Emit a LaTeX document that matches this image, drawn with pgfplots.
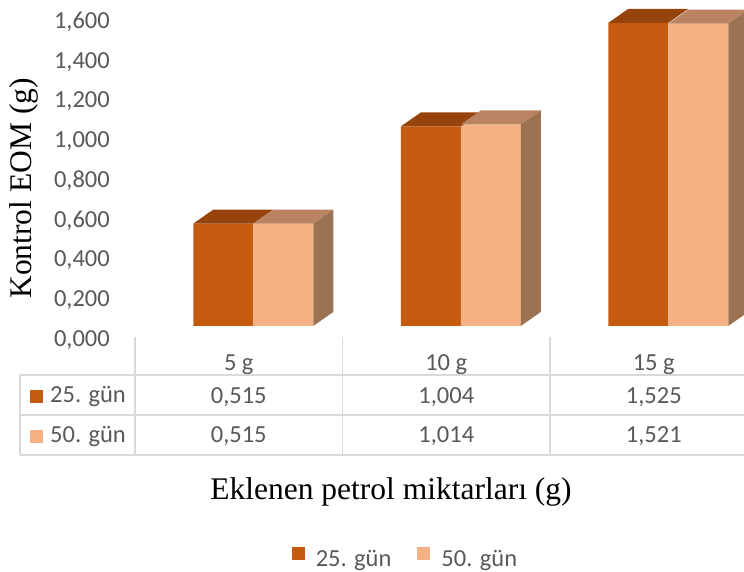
\documentclass[border=0pt]{standalone}
\usepackage{pgfplots}
\usepackage{pgfplotstable}
\usepackage{fontspec}
\pgfplotsset{compat=1.18}
\setmainfont{Carlito}
\newfontfamily\serifface{Liberation Serif}

\definecolor{c25}{HTML}{C55A11}
\definecolor{c50}{HTML}{F4B183}
\definecolor{c25top}{HTML}{97440C}
\definecolor{c50top}{HTML}{BA8462}
\definecolor{c50side}{HTML}{9C7352}
\definecolor{txt}{HTML}{595959}
\definecolor{rule}{HTML}{D9D9D9}

\newcommand\numfont{\fontsize{24.5}{29}\selectfont}
\newcommand\labfont{\fontsize{31.5}{36}\selectfont\serifface}

\pgfkeys{/pgf/number format/.cd, fixed, fixed zerofill, precision=3, use comma, assume math mode=true}

% EOM (g) for each amount of added petroleum
\pgfplotstableread{
x  a      b
0  0.515  0.515
1  1.004  1.014
2  1.525  1.521
}\eom

\pgfdeclareplotmark{blank}{}

% bar geometry in pt
\def\bw{60}      % width of one front face
\def\dx{20}      % depth, horizontal part
\def\dy{14}      % depth, vertical part
\def\yu{198.75}  % pt per unit of y

\pgfplotsset{
  front/.style 2 args={forget plot, ybar, bar width=\bw pt, bar shift=#1pt,
    fill=#2, draw=none, yshift=\dy pt},
  cap/.style n args={3}{forget plot, only marks, mark=blank, scatter, yshift=\dy pt,
    point meta=explicit symbolic,
    scatter/@pre marker code/.code={%
      \pgfmathsetmacro\xl{#1-\bw/2}%
      \pgfmathsetmacro\xr{#1+\bw/2}%
      \pgfmathsetmacro\xlb{\xl+\dx}%
      \pgfmathsetmacro\xrb{\xr+\dx}%
      \pgfmathsetmacro\yb{\dy-\pgfplotspointmeta*\yu}%
      \pgfmathsetmacro\yf{-\pgfplotspointmeta*\yu}%
      \path[draw=none, fill=#2] (\xl pt,0pt) -- (\xr pt,0pt) -- (\xrb pt,\dy pt) -- (\xlb pt,\dy pt) -- cycle;
      \path[draw=none, fill=#3] (\xr pt,0pt) -- (\xrb pt,\dy pt) -- (\xrb pt,\yb pt) -- (\xr pt,\yf pt) -- cycle;
    },
    scatter/@post marker code/.code={}},
  cell/.style={forget plot, only marks, mark=blank, scatter,
    point meta=explicit symbolic,
    scatter/@pre marker code/.code={%
      \node[anchor=base, inner sep=0pt, text=txt, font=\numfont] at (0pt,0pt) {\pgfmathprintnumber{\pgfplotspointmeta}};},
    scatter/@post marker code/.code={}},
}

\begin{document}
\begin{tikzpicture}
\path[use as bounding box] (0pt,0pt) rectangle (744pt,572pt);
\begin{axis}[
  at={(135pt,232pt)}, anchor=south west,
  x=207.5pt, y=198.75pt,
  xmin=-0.5, xmax=2.5, ymin=0, ymax=1.6,
  clip=false,
  axis line style={draw=none},
  major tick length=0pt,
  tick style={draw=none},
  /pgf/number format/.cd, fixed, fixed zerofill, precision=3, use comma, assume math mode=true,
  /pgfplots/.cd,
  ytick={0,0.2,0.4,0.6,0.8,1,1.2,1.4,1.6},
  yticklabel style={anchor=east, inner sep=0pt, xshift=-25pt, font=\numfont, text=txt},
  xtick={0,1,2}, xticklabels={5 g,10 g,15 g},
  xticklabel style={anchor=base, inner sep=0pt, yshift=-31pt, font=\numfont, text=txt},
  xlabel={Eklenen petrol miktarları (g)},
  xlabel style={at={(axis description cs:0.4112,-0.5031)}, anchor=base, font=\labfont, text=black, inner sep=0pt},
  ylabel={Kontrol EOM (g)},
  ylabel style={at={(axis description cs:-0.1670,0.4764)}, anchor=base, font=\labfont, text=black, inner sep=0pt},
  legend image code/.code={\path[draw=none, fill=none] (0pt,0pt) rectangle (22pt,13pt);
    \fill[#1, draw=none] (0pt,0pt) rectangle (13pt,13pt);},
  legend style={at={(axis description cs:0.4345,-0.6870)}, anchor=center, draw=none, fill=none,
    legend columns=-1, font=\numfont, text=txt,
    /tikz/every even column/.append style={column sep=24pt}},
  legend cell align=left,
]
\addplot[front={-15.5}{c25}] table[x=x,y=a]{\eom};
\addplot[cap={-15.5}{c25top}{none}] table[x=x,y=a,meta=a]{\eom};
\addplot[front={44.5}{c50}] table[x=x,y=b]{\eom};
\addplot[cap={44.5}{c50top}{c50side}] table[x=x,y=b,meta=b]{\eom};

\addplot[cell] table[x=x,y expr=-0.317,meta=a]{\eom};
\addplot[cell] table[x=x,y expr=-0.518,meta=b]{\eom};

\addlegendimage{fill=c25}
\addlegendentry{25. gün}
\addlegendimage{fill=c50}
\addlegendentry{50. gün}
\end{axis}

% data table grid
\begin{scope}[draw=rule, line width=1.5pt]
  \draw (20pt,197pt) -- (770pt,197pt);
  \draw (20pt,157pt) -- (770pt,157pt);
  \draw (20pt,117pt) -- (770pt,117pt);
  \draw (20pt,197pt) -- (20pt,117pt);
  \draw (135pt,235pt) -- (135pt,117pt);
  \draw (342.5pt,235pt) -- (342.5pt,117pt);
  \draw (550pt,235pt) -- (550pt,117pt);
\end{scope}
% row keys of the table
\fill[c25] (30pt,169pt) rectangle (43pt,182pt);
\node[anchor=base west, inner sep=0pt, text=txt, font=\numfont] at (50pt,169pt) {25. gün};
\fill[c50] (30pt,129pt) rectangle (43pt,142pt);
\node[anchor=base west, inner sep=0pt, text=txt, font=\numfont] at (50pt,129pt) {50. gün};
\end{tikzpicture}
\end{document}
